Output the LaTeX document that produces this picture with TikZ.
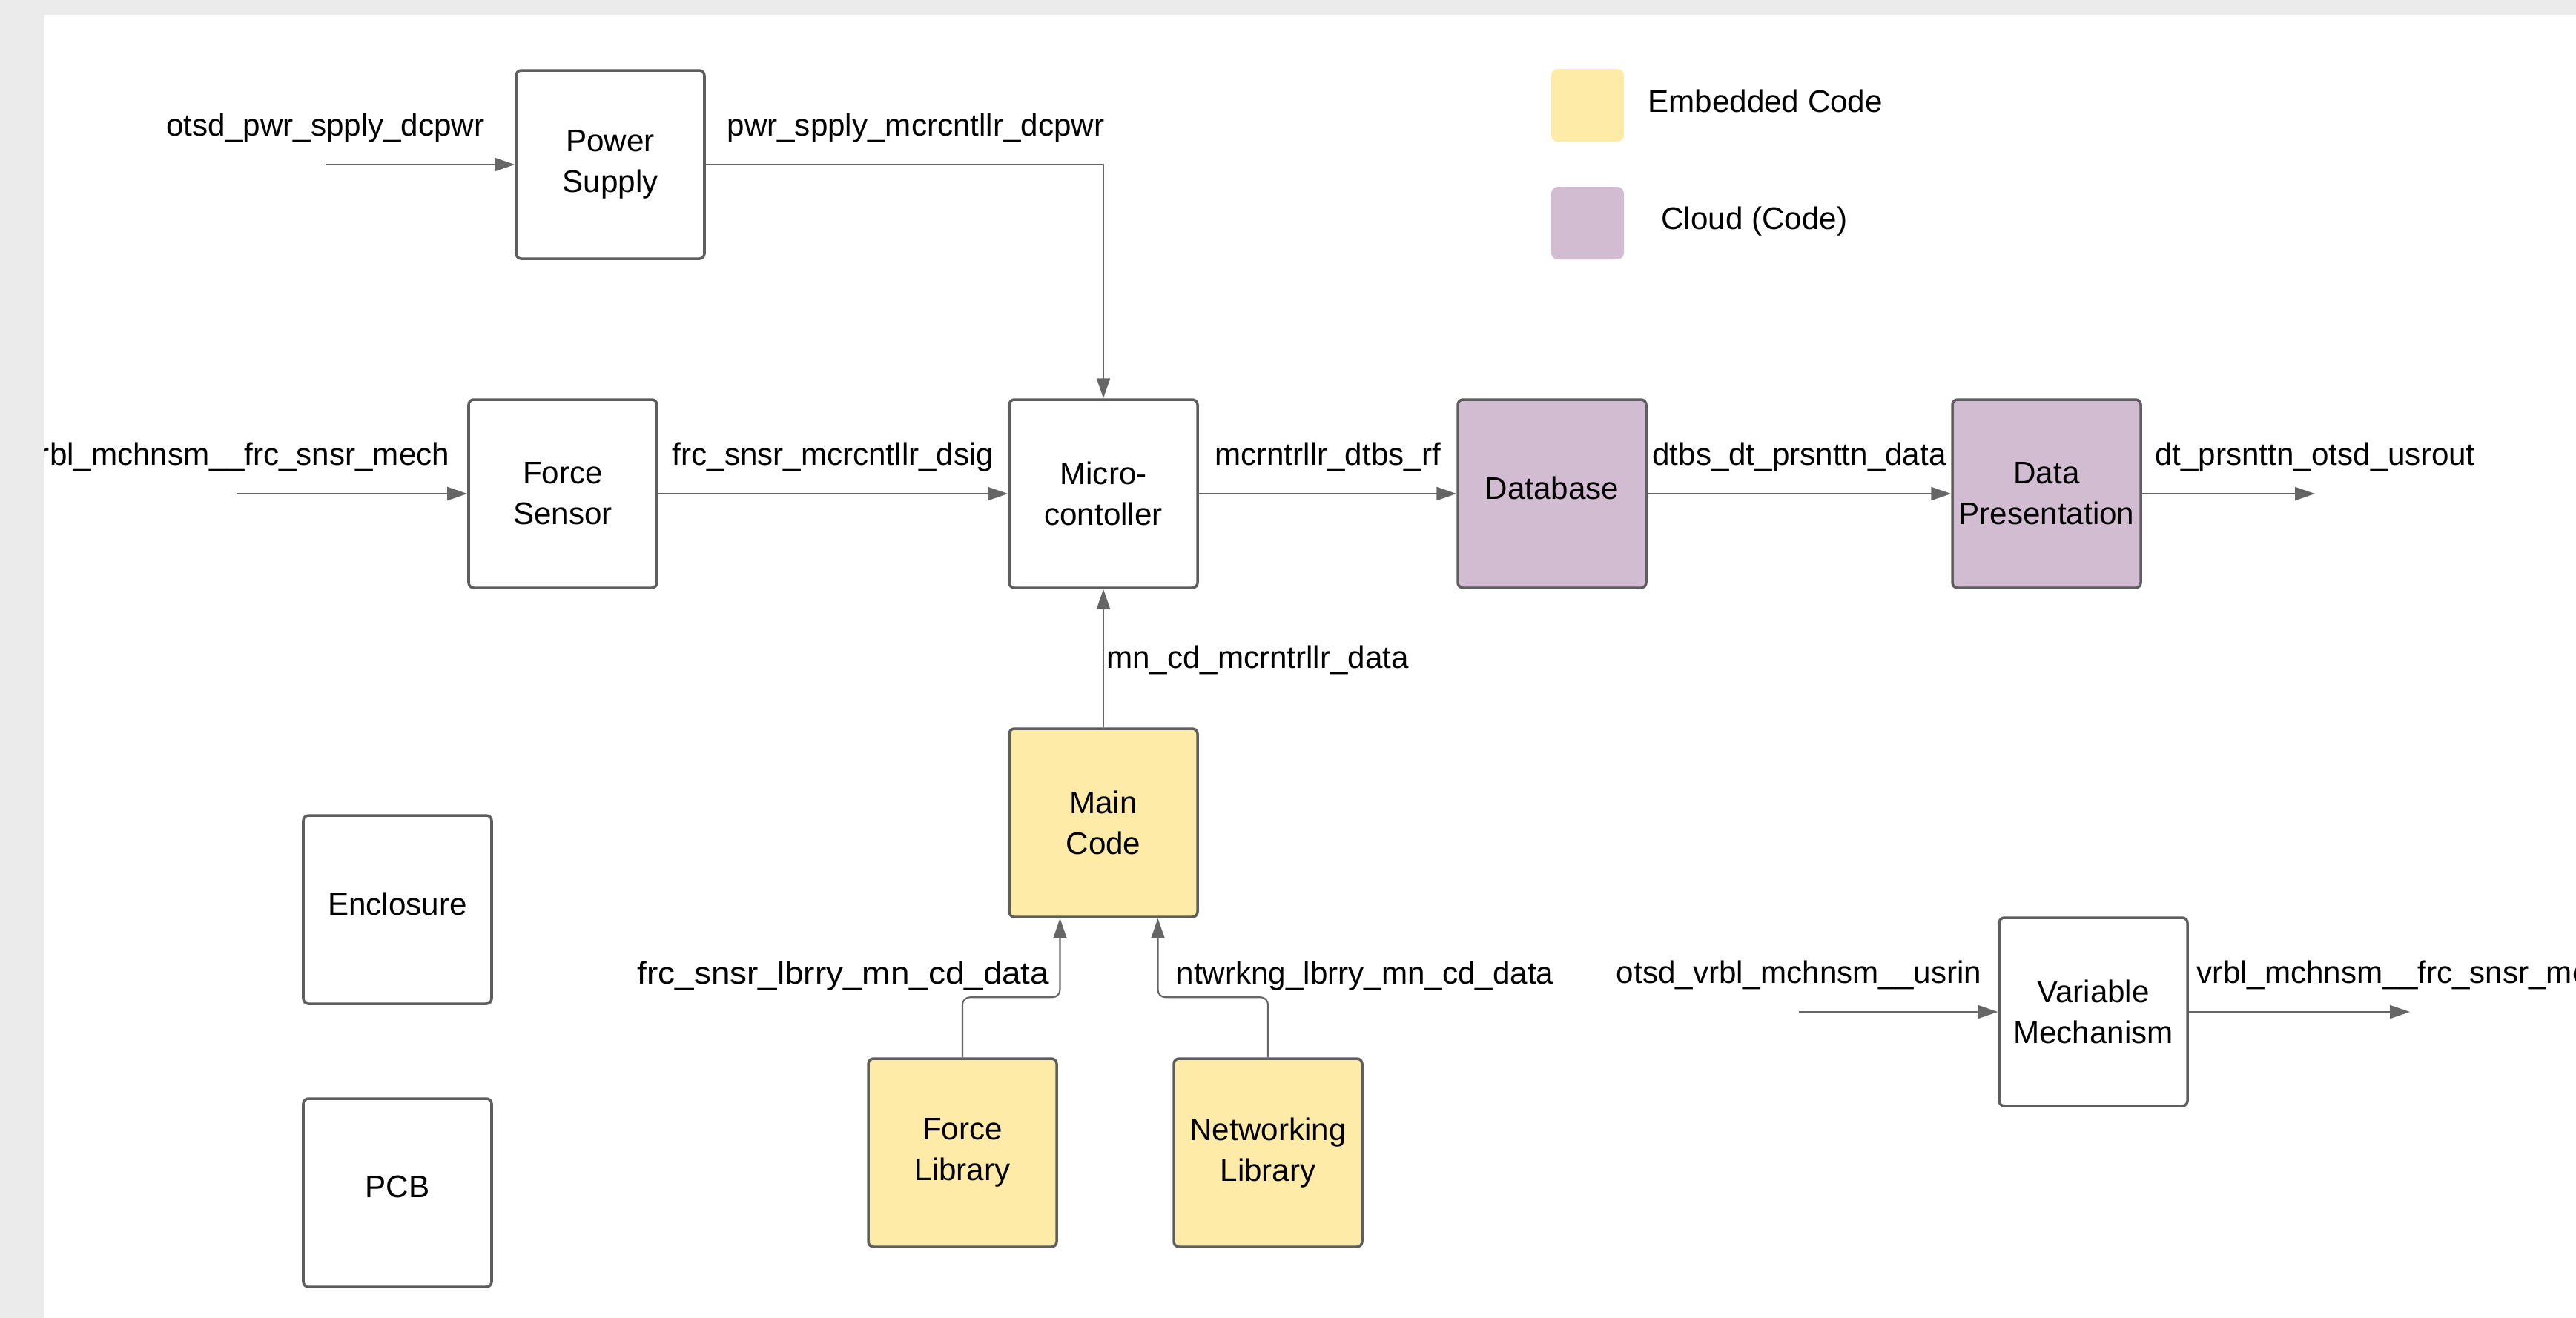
\documentclass[tikz,border=0pt]{standalone}
\usepackage{fontspec}
\usepackage{graphicx}
\setmainfont{Liberation Sans}
\usetikzlibrary{arrows.meta,positioning}
\definecolor{embedded}{HTML}{FFEBA8}
\definecolor{cloud}{HTML}{D2BCD2}
\definecolor{edgegray}{HTML}{5E5E5E}
\definecolor{wiregray}{HTML}{666666}
\definecolor{framegray}{HTML}{EBEBEB}
\begin{document}
\begin{tikzpicture}[
   block/.style={draw=edgegray, line width=1pt, rounded corners=0.7mm, fill=white,
      minimum width=\W, minimum height=\W, align=center, inner sep=1pt,
      font=\fontsize{12}{15.6}\selectfont},
   oneline/.style={text depth=4.6pt},
   code/.style={block, fill=embedded},
   cloudbox/.style={block, fill=cloud},
   wire/.style={draw=wiregray, line width=0.6pt, -{Triangle[length=2.7mm, width=1.8mm]}},
   lbl/.style={inner sep=0pt, anchor=base, font=\fontsize{12}{14}\selectfont},
   key/.style={minimum size=0.98cm, rounded corners=0.9mm, inner sep=0pt},
   ]
   \def\W{2.54cm}
   \def\L{3.9mm} % label baseline above its wire
   \useasboundingbox (0,0) rectangle (34.74,-17.77);
   \fill[white] (-0.2,0.2) rectangle (35.0,-18.0);

   % blocks
   \node[block] (psupply) at (8.23,-2.22) {Power\\Supply};
   \node[block] (fsensor) at (7.59,-6.66) {Force\\Sensor};
   \node[block] (micro) at (14.88,-6.66) {Micro-\\contoller};
   \node[cloudbox, oneline] (dbase) at (20.93,-6.66) {Database};
   \node[cloudbox] (dpres) at (27.60,-6.66) {Data\\Presentation};
   \node[code] (mcode) at (14.88,-11.10) {Main\\Code};
   \node[code] (flib) at (12.98,-15.55) {Force\\Library};
   \node[code] (nlib) at (17.10,-15.55) {Networking\\Library};
   \node[block] (vmech) at (28.23,-13.65) {Variable\\Mechanism};
   \node[block, oneline] (encl) at (5.36,-12.27) {Enclosure};
   \node[block, oneline] (pcb) at (5.36,-16.09) {PCB};

   % legend
   \node[key, fill=embedded] (keyemb) at (21.41,-1.42) {};
   \node[key, fill=cloud] (keycld) at (21.41,-3.01) {};
   \node[lbl, anchor=west, right=0.31cm of keyemb, yshift=0.6mm] (keyembtxt) {Embedded Code};
   \node[lbl, anchor=west, right=0.49cm of keycld, yshift=0.2mm] (keycldtxt) {Cloud (Code)};

   % free wire ends
   \coordinate (psin) at (4.39,-2.22);
   \coordinate (fsin) at (3.19,-6.66);
   \coordinate (dpout) at (31.22,-6.66);
   \coordinate (vmin) at (24.26,-13.65);
   \coordinate (vmout) at (32.50,-13.65);

   % wires
   \draw[wire] (psin) -- (psupply);
   \node[lbl] (psinlbl) at ([yshift=\L]psin) {otsd\_pwr\_spply\_dcpwr};
   \draw[wire] (psupply) -| node[lbl, pos=0.25, xshift=1.5mm, yshift=\L] (pwrlbl) {pwr\_spply\_mcrcntllr\_dcpwr} (micro);
   \draw[wire] (fsin) -- (fsensor);
   \node[lbl] (fsinlbl) at ([yshift=\L]fsin) {vrbl\_mchnsm\_\_frc\_snsr\_mech};
   \draw[wire] (fsensor) -- node[lbl, yshift=\L] (dsiglbl) {frc\_snsr\_mcrcntllr\_dsig} (micro);
   \draw[wire] (micro) -- node[lbl, yshift=\L] (rflbl) {mcrntrllr\_dtbs\_rf} (dbase);
   \draw[wire] (dbase) -- node[lbl, yshift=\L] (datalbl) {dtbs\_dt\_prsnttn\_data} (dpres);
   \draw[wire] (dpres) -- (dpout);
   \node[lbl] (usroutlbl) at ([yshift=\L]dpout) {dt\_prsnttn\_otsd\_usrout};
   \draw[wire] (mcode) -- node[lbl, anchor=base west, xshift=0.3mm, yshift=-1.35mm] (mcdlbl) {mn\_cd\_mcrntrllr\_data} (micro);
   \draw[wire, rounded corners=1mm] (flib.north) -- ++(0,0.81) -| ([xshift=-0.585cm]mcode.south);
   \node[lbl, anchor=base east] (flibtxt) at (14.16,-13.27) {\scalebox{1.087}[1]{frc\_snsr\_lbrry\_mn\_cd\_data}};
   \draw[wire, rounded corners=1mm] (nlib.north) -- ++(0,0.81) -| ([xshift=0.735cm]mcode.south);
   \node[lbl, anchor=base west] (nlibtxt) at (15.86,-13.27) {ntwrkng\_lbrry\_mn\_cd\_data};
   \draw[wire] (vmin) -- (vmech);
   \node[lbl] (vminlbl) at ([yshift=\L]vmin) {otsd\_vrbl\_mchnsm\_\_usrin};
   \draw[wire] (vmech) -- (vmout);
   \node[lbl] (vmoutlbl) at ([yshift=\L]vmout) {vrbl\_mchnsm\_\_frc\_snsr\_mech};

   % page frame, left and top only
   \fill[framegray] (-0.2,0.2) rectangle (0.60,-18.0);
   \fill[framegray] (-0.2,0.2) rectangle (35.0,-0.20);
\end{tikzpicture}
\end{document}
